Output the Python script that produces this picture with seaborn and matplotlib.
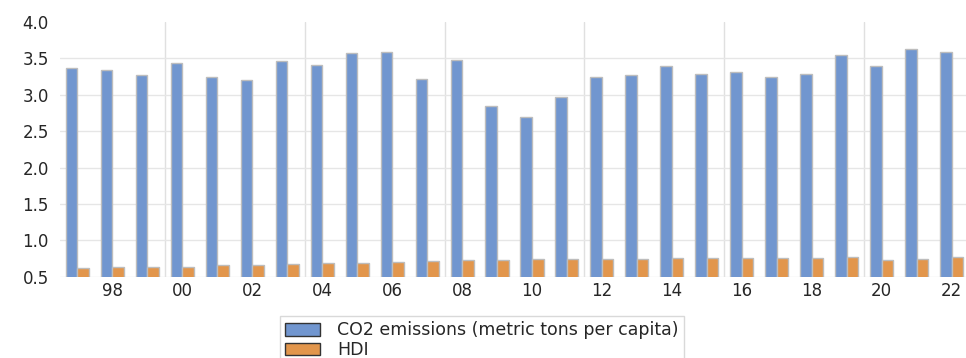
import numpy as np
import pandas as pd
import matplotlib
matplotlib.use("Agg")
import matplotlib.pyplot as plt
from matplotlib.patches import Patch
import seaborn as sns

# ---------------------------------------------------------------------------
# Data
# ---------------------------------------------------------------------------
years = list(range(1997, 2023))
co2 = [3.37, 3.34, 3.27, 3.44, 3.25, 3.20, 3.46, 3.41, 3.57, 3.59, 3.22, 3.48, 2.84,
       2.69, 2.97, 3.24, 3.27, 3.39, 3.29, 3.31, 3.24, 3.29, 3.54, 3.39, 3.63, 3.59]
hdi = [0.615, 0.63, 0.633, 0.64, 0.655, 0.657, 0.675, 0.684, 0.69, 0.70, 0.72, 0.73, 0.73,
       0.748, 0.748, 0.748, 0.748, 0.76, 0.76, 0.76, 0.76, 0.76, 0.77, 0.73, 0.75, 0.77]
series_names = ["CO2 emissions (metric tons per capita)", "HDI"]
colors = ["#7196CF", "#E2964C"]
y_ticks = [0.5, 1.0, 1.5, 2.0, 2.5, 3.0, 3.5, 4.0]

df = pd.DataFrame({
    "year": years * 2,
    "series": [series_names[0]] * len(years) + [series_names[1]] * len(years),
    "value": co2 + hdi,
})

# ---------------------------------------------------------------------------
# Plot
# ---------------------------------------------------------------------------
sns.set_style("white")
plt.rcParams["font.family"] = ["DejaVu Sans"]

fig = plt.figure(figsize=(9.66, 3.58), dpi=100)
ax = fig.add_axes([60 / 966, 1 - 276.7 / 358, 909 / 966, (276.7 - 22) / 358])

sns.barplot(data=df, x="year", y="value", hue="series", palette=colors,
            width=0.66, edgecolor="#BDBDBD", linewidth=1.0, saturation=1,
            legend=False, ax=ax)

ax.set_ylim(0.5, 4.0)
ax.set_yticks(y_ticks)
ax.set_yticklabels([f"{v:.1f}" for v in y_ticks])
ax.set_xlim(-0.5, len(years) - 0.5)

# labels every other year, two-digit
lab_idx = [i for i, y in enumerate(years) if y % 2 == 0]
ax.set_xticks(lab_idx)
ax.set_xticklabels([f"{years[i] % 100:02d}" for i in lab_idx])
# vertical separators every 4 years
ax.set_xticks([i - 0.5 for i, y in enumerate(years) if y % 4 == 0], minor=True)

ax.set_xlabel("")
ax.set_ylabel("")
ax.tick_params(axis="both", which="both", length=0, labelsize=12, colors="#262626")
ax.tick_params(axis="y", pad=8)
ax.tick_params(axis="x", pad=4)

ax.grid(axis="y", which="major", color="#E6E6E6", lw=1)
ax.grid(axis="x", which="minor", color="#E0E0E0", lw=1)
ax.grid(axis="x", which="major", visible=False)
ax.set_axisbelow(True)
ax.yaxis.get_gridlines()[-1].set_visible(False)
for s in ax.spines.values():
    s.set_visible(False)

handles = [Patch(facecolor=c, edgecolor="#333333", lw=1) for c in colors]
fig.legend(handles, series_names, loc="upper left",
           bbox_to_anchor=(280 / 966, 1 - 316 / 358), frameon=True,
           fontsize=12.5, edgecolor="#D0D0D0", fancybox=False,
           handlelength=2.0, handleheight=0.75, labelspacing=0.1,
           borderpad=0.3, handletextpad=1.0, borderaxespad=0)

fig.savefig("out.png", dpi=100)
plt.close(fig)
